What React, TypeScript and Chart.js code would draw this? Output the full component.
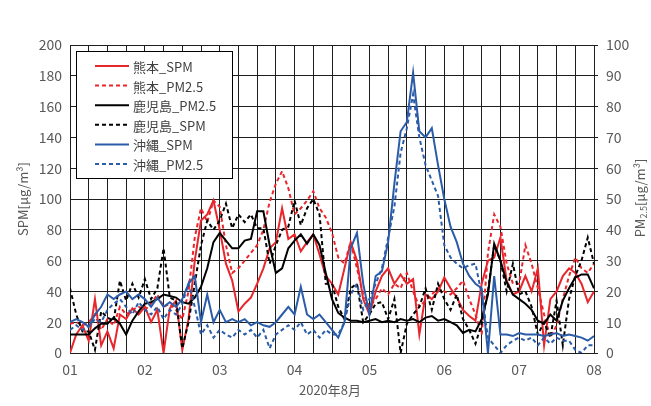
import React, { useEffect, useRef } from 'react';
import { Chart, registerables } from 'chart.js';

Chart.register(...registerables);

// time axis: hours since 2020-08-01 00:00, every 2 hours
const hoursFromStart: number[] = Array.from({ length: 85 }, (_, i) => i * 2);
const dayTickLabels = ['01', '02', '03', '04', '05', '06', '07', '08'];

// SPM series (left axis, μg/m3)
const kumamotoSPM = [0, 12, 18, 8, 35, 5, 14, 3, 25, 22, 29, 25, 30, 20, 28, 0, 29, 34, 2, 22, 60, 86, 90, 99, 80, 58, 47, 27, 32, 36, 45, 55, 68, 72, 94, 74, 77, 66, 72, 77, 64, 50, 45, 38, 55, 72, 60, 35, 25, 40, 50, 55, 45, 51, 45, 48, 12, 38, 35, 40, 49, 42, 36, 28, 24, 21, 45, 60, 62, 75, 47, 38, 40, 50, 40, 55, 5, 35, 40, 50, 55, 52, 45, 33, 40];
const kagoshimaSPM = [42, 25, 14, 14, 2, 27, 23, 21, 47, 34, 45, 36, 48, 35, 42, 68, 36, 34, 3, 20, 45, 70, 86, 80, 86, 97, 81, 90, 85, 90, 81, 81, 58, 70, 80, 82, 99, 83, 94, 100, 90, 45, 45, 30, 22, 42, 45, 20, 25, 32, 33, 22, 35, 0, 19, 25, 30, 42, 28, 45, 35, 28, 38, 22, 15, 6, 19, 40, 70, 60, 40, 58, 38, 40, 30, 12, 20, 10, 34, 5, 35, 50, 60, 75, 58];
const okinawaSPM = [20, 22, 20, 17, 25, 30, 38, 35, 38, 40, 35, 38, 35, 30, 36, 30, 33, 30, 35, 45, 50, 20, 38, 20, 28, 20, 22, 20, 22, 18, 20, 18, 17, 20, 25, 30, 25, 43, 25, 22, 25, 20, 15, 10, 20, 68, 78, 45, 25, 50, 53, 72, 110, 144, 150, 182, 144, 140, 146, 122, 100, 82, 72, 58, 50, 45, 42, 0, 50, 12, 12, 11, 13, 12, 12, 12, 11, 12, 13, 11, 12, 11, 10, 8, 11];

// PM2.5 series (right axis, μg/m3)
const kumamotoPM25 = [9.5, 10, 9, 10, 12.5, 7.5, 11, 9, 15, 12.5, 14, 15, 14, 16, 19, 15, 16, 14, 11, 20, 37.5, 47, 42.5, 49.5, 47.5, 35, 26, 27.5, 30, 32.5, 35, 40, 49, 55, 59, 53.5, 45, 47, 49.5, 52.5, 47, 44, 39, 31, 29, 36, 27.5, 19, 15, 17.5, 21, 19, 22.5, 21, 26, 20, 15, 17, 19, 21, 20, 19, 21, 23.5, 17.5, 12.5, 6, 32.5, 45, 41, 29, 22.5, 22.5, 35, 29, 21, 12.5, 5, 9, 17.5, 25, 31, 27.5, 26, 29];
const kagoshimaPM25 = [6, 6, 6, 6, 8, 9.5, 9.5, 11.5, 9.5, 6, 10.5, 13.5, 16, 16.5, 17.5, 19, 18.5, 18, 16.5, 16, 18, 21.5, 27.5, 36, 39, 36.5, 34, 34, 36.5, 37, 46, 46, 35, 26, 27.5, 34, 36.5, 38.5, 35.5, 38.5, 35, 26, 17.5, 13, 11.5, 10.5, 10.5, 10, 10.5, 11, 10, 10.5, 10, 11, 10.5, 11, 10, 11.5, 12, 10.5, 11, 10, 9, 6.5, 7.5, 7, 11, 19, 35.5, 30, 23, 19, 17.5, 16, 14, 10.5, 9.5, 12.5, 10.5, 17, 21, 24.5, 25.5, 25.5, 21];
const okinawaPM25 = [7.5, 9, 7.5, 8.5, 11, 10, 14, 16, 17.5, 15, 12.5, 16.5, 14, 12.5, 15, 11, 14, 12.5, 16, 22.5, 15, 6, 9, 5, 7.5, 6, 5, 7.5, 6, 7.5, 5, 7.5, 1.5, 6, 7.5, 9, 7.5, 10, 6, 7.5, 5, 7.5, 6, 6, 10, 19, 22.5, 14, 17.5, 22.5, 27.5, 37.5, 47.5, 65, 73, 84, 70, 61, 56, 51, 35, 31, 29, 27.5, 28.5, 29, 19, 5, 2.5, 0, 2.5, 4, 5, 4, 5, 2.5, 5, 3, 5, 4, 4, 1, 0, 2.5, 2.5];

const seriesNames = ['熊本_SPM', '熊本_PM2.5', '鹿児島_PM2.5', '鹿児島_SPM', '沖縄_SPM', '沖縄_PM2.5'];
const xAxisTitle = '2020年8月';
const leftAxisTitle = 'SPM[μg/m³]';

const RED = '#e8262c';
const BLUE = '#2b5ca8';
const BLACK = '#000000';
const GRID = '#1e1e1e';
const TEXT = '#595959';
const FONT = '"Noto Sans CJK JP", "Noto Sans", sans-serif';
const DASH = [4, 3];

function makeSet(label: string, values: number[], color: string, dashed: boolean, axis: string, order: number) {
  return {
    label,
    data: values.map((v, i) => ({ x: hoursFromStart[i], y: v })),
    borderColor: color,
    backgroundColor: color,
    borderWidth: 2,
    borderDash: dashed ? DASH : [],
    pointRadius: 0,
    tension: 0,
    fill: false,
    yAxisID: axis,
    order,
  };
}

const overlayPlugin = {
  id: 'overlay',
  afterDraw(chart: any) {
    const ctx = chart.ctx as CanvasRenderingContext2D;
    const ds = chart.data.datasets;
    // legend box
    ctx.save();
    ctx.fillStyle = '#ffffff';
    ctx.fillRect(76.5, 51.5, 156, 127);
    ctx.strokeStyle = '#000';
    ctx.lineWidth = 1;
    ctx.setLineDash([]);
    ctx.strokeRect(76.5, 51.5, 156, 127);
    ctx.font = `13px ${FONT}`;
    ctx.textBaseline = 'middle';
    ctx.textAlign = 'left';
    for (let i = 0; i < ds.length; i++) {
      const y = 66 + i * 19.6;
      ctx.beginPath();
      ctx.strokeStyle = ds[i].borderColor;
      ctx.lineWidth = 2;
      ctx.setLineDash(ds[i].borderDash || []);
      ctx.moveTo(95, y);
      ctx.lineTo(129, y);
      ctx.stroke();
      ctx.setLineDash([]);
      ctx.fillStyle = '#404040';
      ctx.fillText(ds[i].label, 133, y + 1);
    }
    ctx.restore();

    // axis titles
    ctx.save();
    ctx.fillStyle = TEXT;
    ctx.font = `13px ${FONT}`;
    ctx.textBaseline = 'middle';
    ctx.textAlign = 'center';
    ctx.fillText(xAxisTitle, 330, 390);

    ctx.save();
    ctx.translate(23, 199);
    ctx.rotate(-Math.PI / 2);
    ctx.fillText(leftAxisTitle, 0, 0);
    ctx.restore();

    ctx.save();
    ctx.translate(640, 198);
    ctx.rotate(-Math.PI / 2);
    ctx.textAlign = 'left';
    const big = `13px ${FONT}`;
    const small = `9px ${FONT}`;
    ctx.font = big;
    const w1 = ctx.measureText('PM').width;
    const w3 = ctx.measureText('[μg/m³]').width;
    ctx.font = small;
    const w2 = ctx.measureText('2.5').width;
    let x = -(w1 + w2 + w3) / 2;
    ctx.font = big;
    ctx.fillText('PM', x, 0);
    x += w1;
    ctx.font = small;
    ctx.fillText('2.5', x, 4);
    x += w2;
    ctx.font = big;
    ctx.fillText('[μg/m³]', x, 0);
    ctx.restore();
    ctx.restore();
  },
};

export default function App() {
  const ref = useRef<HTMLCanvasElement | null>(null);
  useEffect(() => {
    if (!ref.current) return;
    const datasets = [
      makeSet(seriesNames[0], kumamotoSPM, RED, false, 'y', 5),
      makeSet(seriesNames[1], kumamotoPM25, RED, true, 'y2', 4),
      makeSet(seriesNames[2], kagoshimaPM25, BLACK, false, 'y2', 3),
      makeSet(seriesNames[3], kagoshimaSPM, BLACK, true, 'y', 2),
      makeSet(seriesNames[4], okinawaSPM, BLUE, false, 'y', 1),
      makeSet(seriesNames[5], okinawaPM25, BLUE, true, 'y2', 0),
    ];
    const tickFont = { family: FONT, size: 14 };
    const chart = new Chart(ref.current, {
      type: 'line',
      data: { datasets } as any,
      options: {
        animation: false,
        responsive: true,
        maintainAspectRatio: false,
        layout: { padding: { top: 45, left: 0, right: 0, bottom: 0 } },
        plugins: { legend: { display: false }, tooltip: { enabled: false }, title: { display: false } },
        scales: {
          x: {
            type: 'linear',
            min: 0,
            max: 168,
            grid: { color: GRID, lineWidth: 1, drawTicks: false },
            border: { color: GRID, width: 1 },
            ticks: {
              stepSize: 6,
              autoSkip: false,
              maxRotation: 0,
              padding: 8,
              color: TEXT,
              font: tickFont,
              callback: (v: any) => (Number(v) % 24 === 0 ? dayTickLabels[Number(v) / 24] : ''),
            },
            afterFit: (s: any) => { s.height = 53; },
          },
          y: {
            position: 'left',
            min: 0,
            max: 200,
            grid: { color: GRID, lineWidth: 1, drawTicks: false },
            border: { color: GRID, width: 1 },
            ticks: { stepSize: 20, padding: 8, color: TEXT, font: tickFont },
            afterFit: (s: any) => { s.width = 70; },
          },
          y2: {
            position: 'right',
            min: 0,
            max: 100,
            grid: { drawOnChartArea: false, color: GRID, tickLength: 4 },
            border: { color: GRID, width: 1 },
            ticks: { stepSize: 10, padding: 8, color: TEXT, font: tickFont },
            afterFit: (s: any) => { s.width = 57; },
          },
        },
      } as any,
      plugins: [overlayPlugin],
    });
    return () => chart.destroy();
  }, []);
  return (
    <div style={{ position: 'fixed', left: 0, top: 0, width: 651, height: 406, background: '#fff' }}>
      <canvas ref={ref} />
    </div>
  );
}
